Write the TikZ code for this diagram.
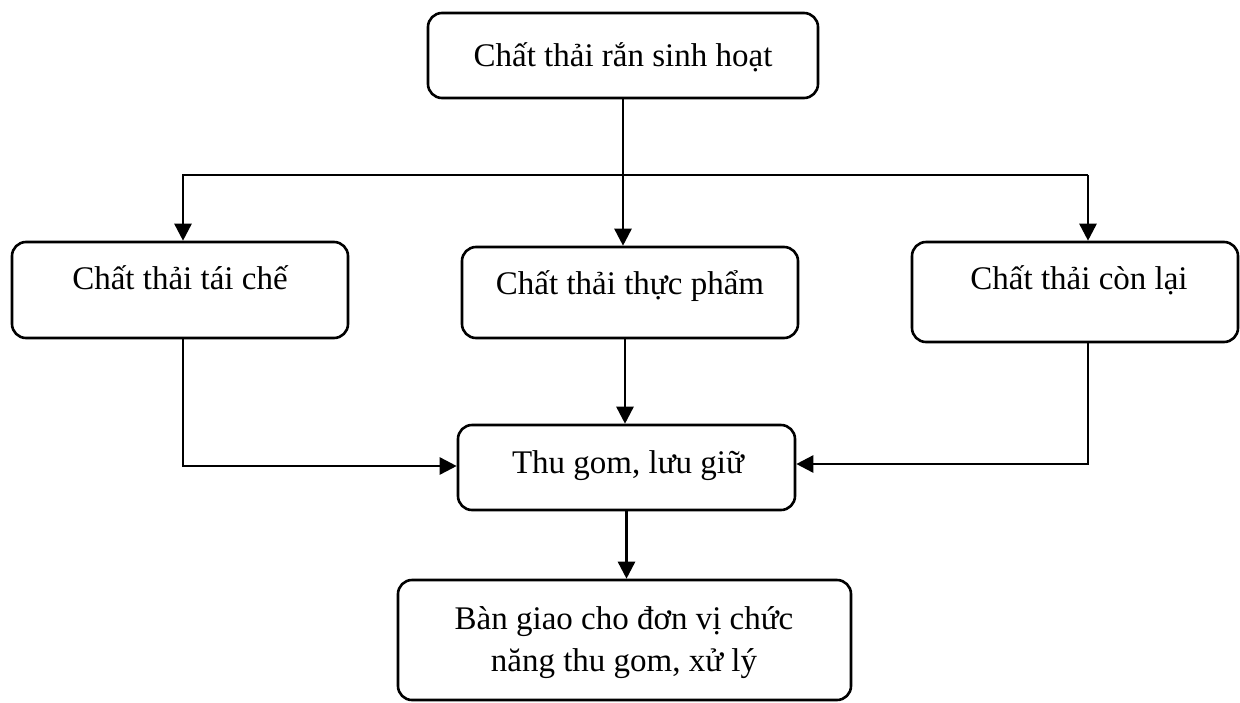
\documentclass[tikz,border=0pt]{standalone}
\usepackage{fontspec}
\setmainfont{Liberation Serif}
\usetikzlibrary{arrows.meta}
\tikzset{
  box/.style={draw, line width=2.6pt, rounded corners=14pt, inner sep=0pt},
  lbl/.style={anchor=base, inner sep=0pt, font=\fontsize{33}{42}\selectfont},
  ln/.style={line width=2.6pt},
  arr/.style={line width=2.6pt, -{Triangle[length=17pt,width=17pt]}}
}
\begin{document}
\begin{tikzpicture}[x=1pt,y=-1pt]
\useasboundingbox (0,0) rectangle (1240,702);
% boxes
\node[box, minimum width=390pt, minimum height=85pt] (top) at (623,55.5) {};
\node[box, minimum width=336pt, minimum height=96pt] (left) at (180,290) {};
\node[box, minimum width=336pt, minimum height=91pt] (mid) at (630,292.5) {};
\node[box, minimum width=326pt, minimum height=100pt] (right) at (1075,292) {};
\node[box, minimum width=337pt, minimum height=85pt] (thu) at (626.5,467.5) {};
\node[box, minimum width=453pt, minimum height=120pt] (ban) at (624.5,640) {};
% texts
\node[lbl] (ttop) at (623,66) {Chất thải rắn sinh hoạt};
\node[lbl] (tleft) at (180,289) {Chất thải tái chế};
\node[lbl] (tmid) at (630,294) {Chất thải thực phẩm};
\node[lbl] (tright) at (1079,289) {Chất thải còn lại};
\node[lbl] (tthu) at (628,473) {Thu gom, lưu giữ};
\node[lbl] (tban1) at (624,629) {Bàn giao cho đơn vị chức};
\node[lbl] (tban2) at (624,671) {năng thu gom, xử lý};
% connectors
\coordinate (jL) at (183,175);
\coordinate (jR) at (1088,175);
\coordinate (rL) at (183,466);
\coordinate (rR) at (1088,464);
\draw[arr] (top.south) -- (top.south |- mid.north);
\draw[arr] (jR) -- (jL) -- (jL |- left.north);
\draw[arr] (jR) -- (jR |- right.north);
\draw[arr] (jL |- left.south) -- (rL) -- (rL -| thu.west);
\draw[arr] (jR |- right.south) -- (rR) -- (rR -| thu.east);
\draw[arr] ([xshift=-5pt]mid.south) -- ([xshift=-5pt]mid.south |- thu.north);
\draw[arr] (thu.south) -- (thu.south |- ban.north);
\end{tikzpicture}
\end{document}
